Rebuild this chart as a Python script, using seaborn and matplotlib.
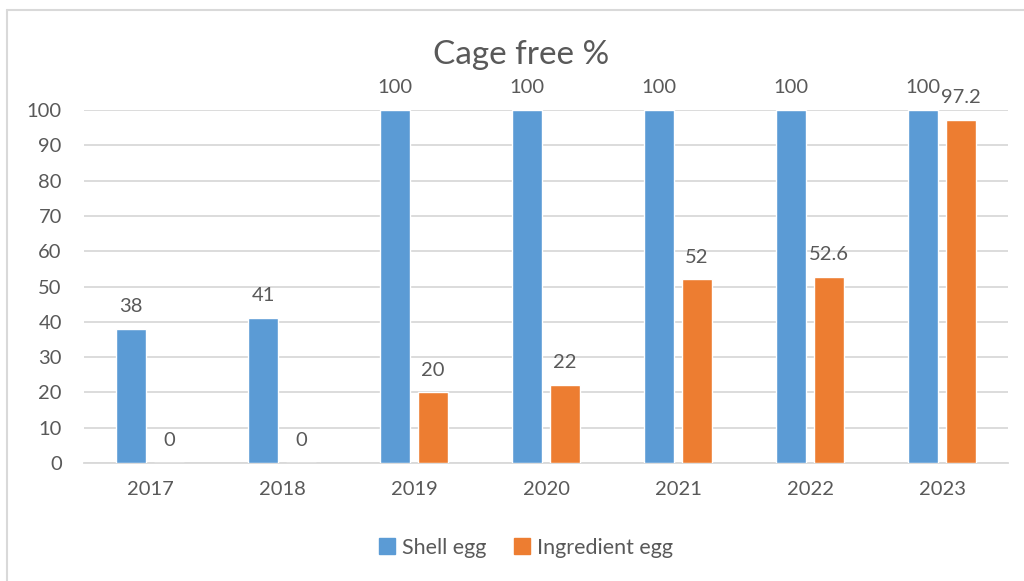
import matplotlib
matplotlib.use("Agg")
import matplotlib.pyplot as plt
import seaborn as sns
import pandas as pd
from matplotlib.lines import Line2D

years = ["2017", "2018", "2019", "2020", "2021", "2022", "2023"]
shell_egg = [38, 41, 100, 100, 100, 100, 100]
ingredient_egg = [0, 0, 20, 22, 52, 52.6, 97.2]
series_names = ["Shell egg", "Ingredient egg"]
colors = ["#5B9BD5", "#ED7D31"]
title = "Cage free %"

df = pd.DataFrame({
    "year": years * 2,
    "value": shell_egg + ingredient_egg,
    "series": [series_names[0]] * len(years) + [series_names[1]] * len(years),
})

sns.set_theme(style="white")
plt.rcParams["font.family"] = ["Lato", "DejaVu Sans"]
text_color = "#595959"
grid_color = "#D9D9D9"

fig = plt.figure(figsize=(10.24, 5.81), dpi=100)
ax = fig.add_axes([84 / 1024, 1 - 463 / 581, (1008 - 84) / 1024, (463 - 110) / 581])

sns.barplot(data=df, x="year", y="value", hue="series", order=years,
            hue_order=series_names, palette=colors, width=0.576, gap=0.21,
            saturation=1, ax=ax, legend=False, zorder=3)

ax.set_ylim(0, 100)
ax.set_xlim(-0.5, len(years) - 0.5)
ax.set_yticks(range(0, 101, 10))
ax.yaxis.grid(True, color=grid_color, linewidth=1.3, zorder=0)
ax.set_axisbelow(True)
for s in ["top", "right", "left"]:
    ax.spines[s].set_visible(False)
ax.spines["bottom"].set_color(grid_color)
ax.spines["bottom"].set_linewidth(1.3)
ax.tick_params(axis="both", length=0, labelsize=14.5, colors=text_color)
ax.tick_params(axis="x", pad=13)
ax.tick_params(axis="y", pad=16)
ax.set_xlabel("")
ax.set_ylabel("")

for cont in ax.containers:
    labels = ax.bar_label(cont, fmt="%g", padding=10, fontsize=14.5, color=text_color)
    for t in labels:
        t.set_clip_on(False)

fig.text(521 / 1024, 1 - 55 / 581, title, ha="center", va="center", fontsize=24, color=text_color)

handles = [Line2D([0], [0], marker="s", linestyle="", markersize=11,
                  markerfacecolor=c, markeredgecolor=c) for c in colors]
fig.legend(handles, series_names, loc="center", bbox_to_anchor=(525 / 1024, 1 - 548 / 581),
           ncol=2, frameon=False, fontsize=15.5, labelcolor=text_color,
           handletextpad=0.25, columnspacing=1.2, handlelength=0.9)

# chart frame
fig.add_artist(Line2D([7 / 1024, 7 / 1024], [1 - 10 / 581, 0], transform=fig.transFigure,
                      color=grid_color, linewidth=1.5))
fig.add_artist(Line2D([7 / 1024, 1], [1 - 10 / 581, 1 - 10 / 581], transform=fig.transFigure,
                      color=grid_color, linewidth=1.5))

fig.savefig("out.png", dpi=100, facecolor="white")
